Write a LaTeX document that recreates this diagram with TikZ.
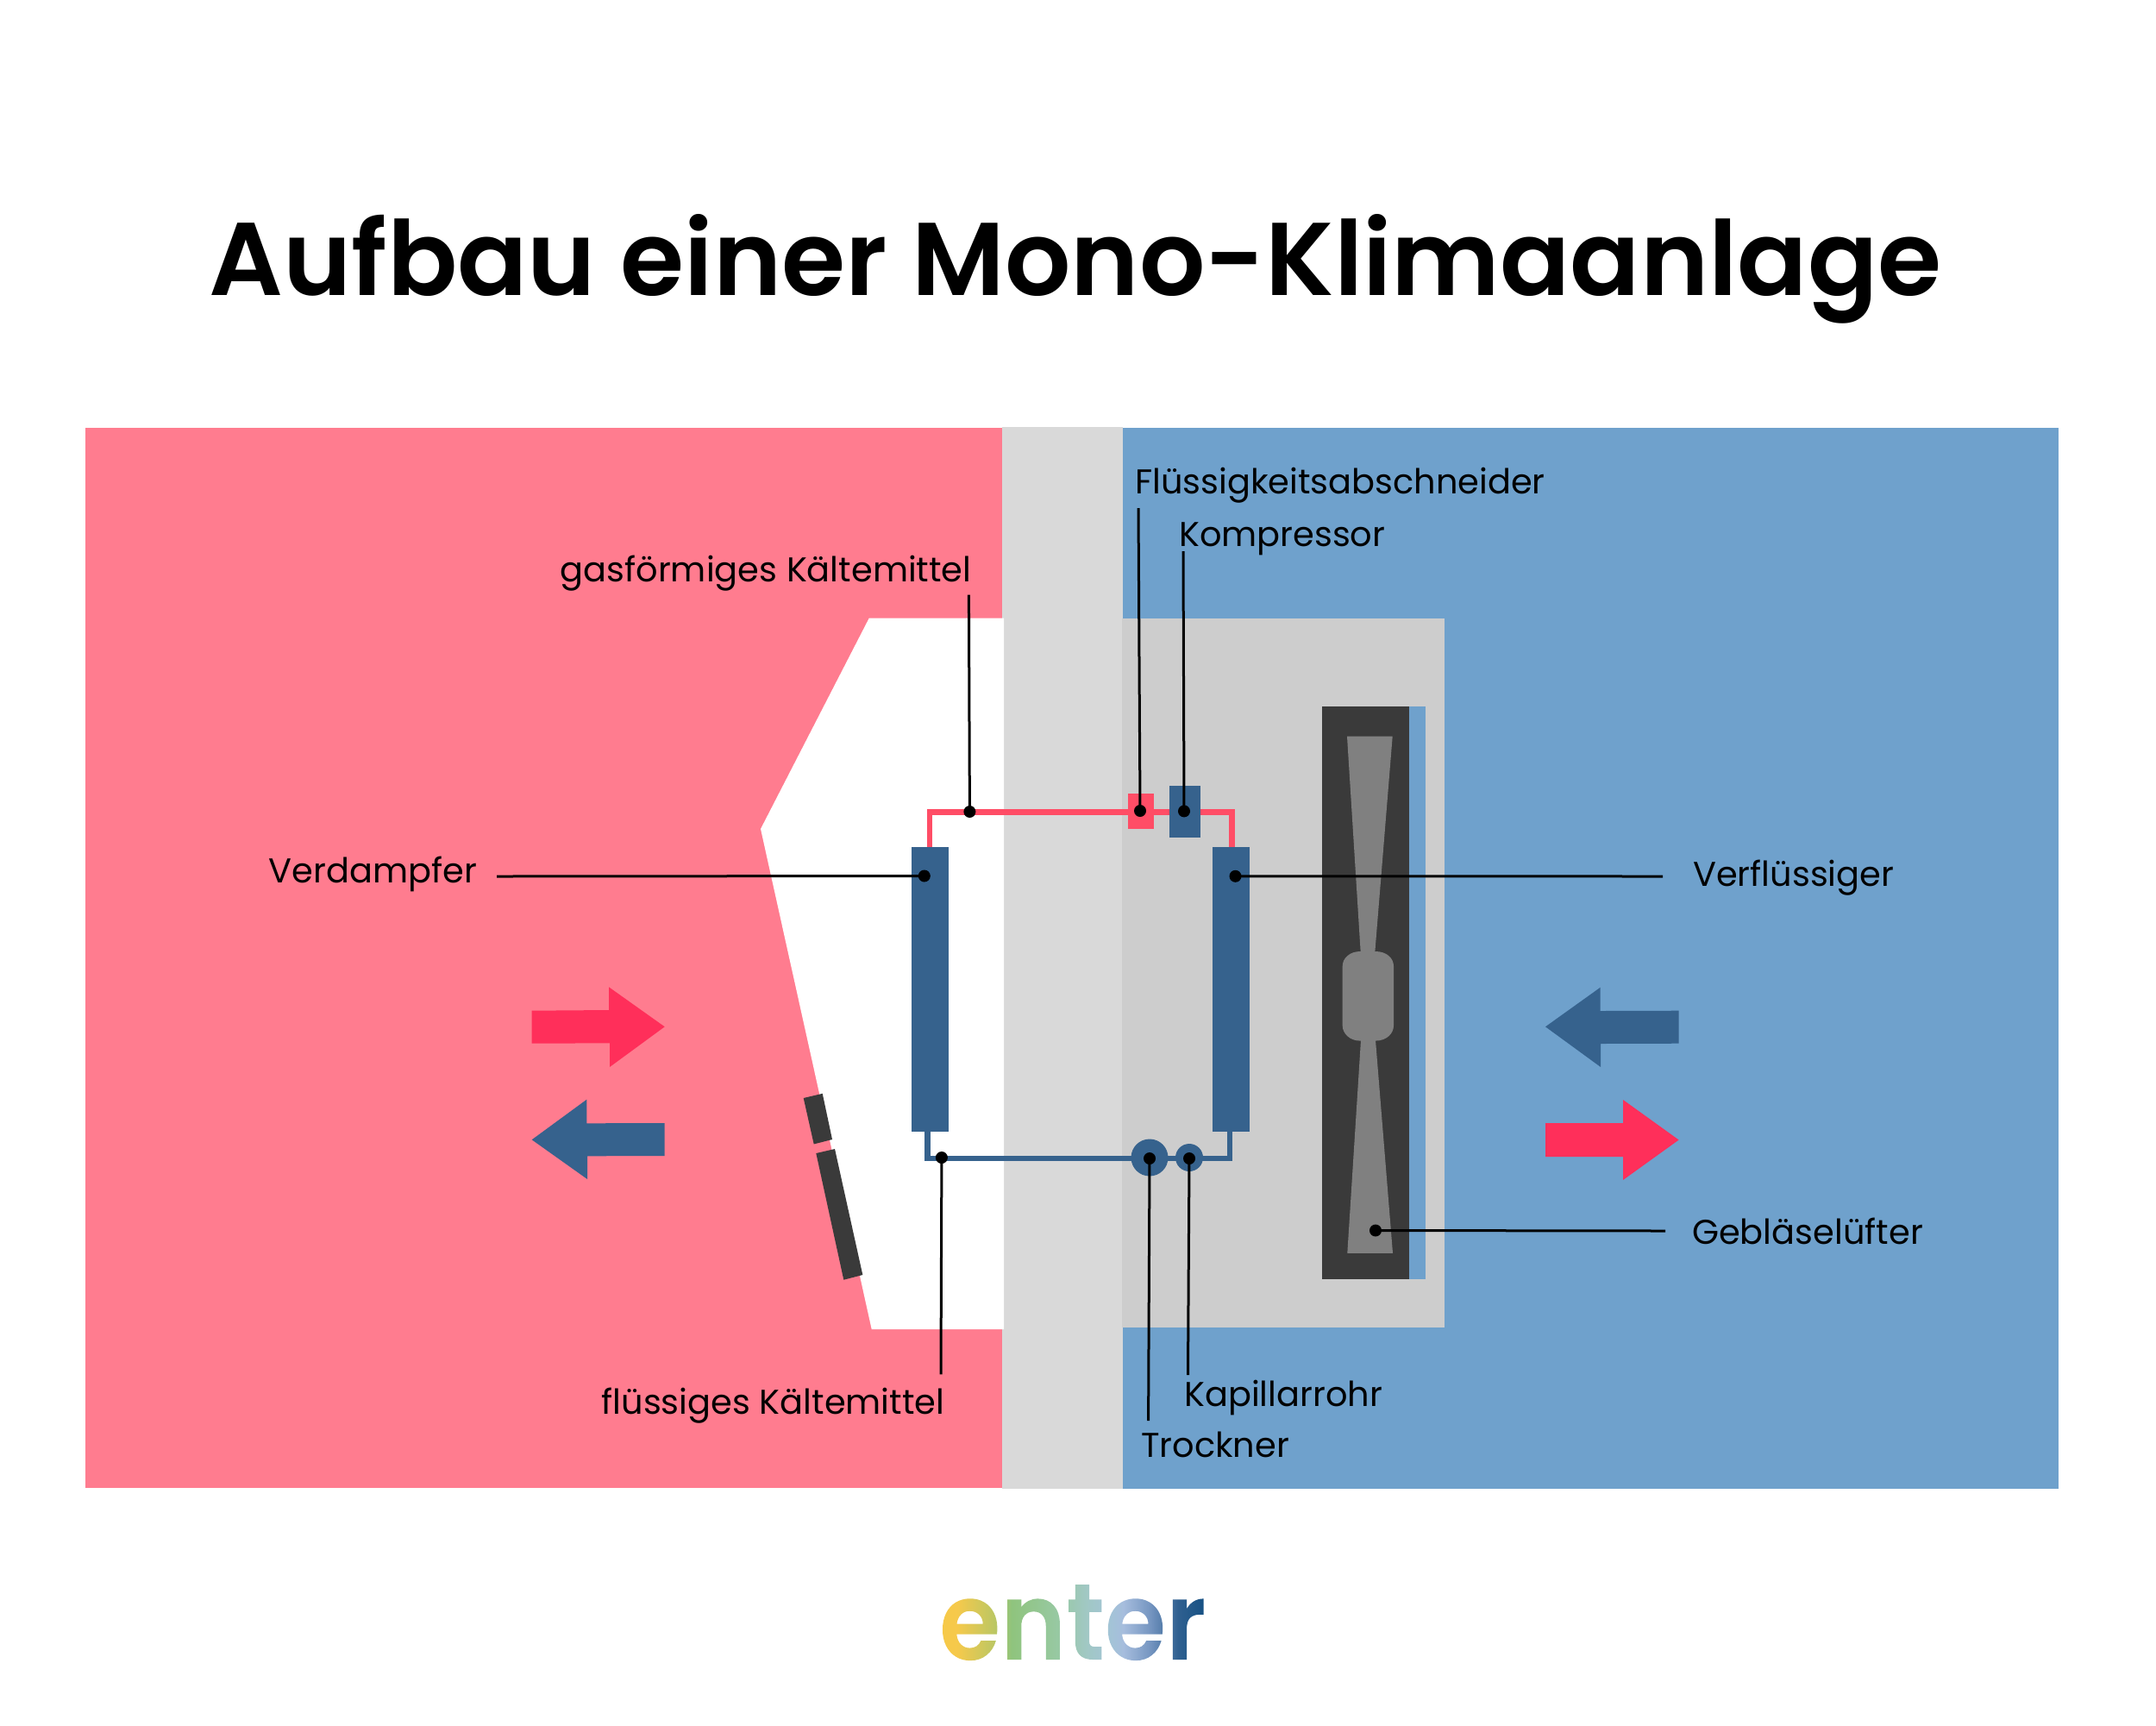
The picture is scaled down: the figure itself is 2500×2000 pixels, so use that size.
\documentclass[tikz,border=0pt]{standalone}
\usepackage{fontspec}
\setmainfont{Poppins}
\newfontfamily\semif{Poppins SemiBold}
\newfontfamily\logof[FakeStretch=0.916]{Poppins SemiBold}
\definecolor{pinkbg}{HTML}{FF7C8F}
\definecolor{bluebg}{HTML}{6FA1CC}
\definecolor{wallc}{HTML}{D9D9D9}
\definecolor{boxc}{HTML}{CDCDCD}
\definecolor{navy}{HTML}{36628D}
\definecolor{pipered}{HTML}{FF4D66}
\definecolor{arrowred}{HTML}{FF2F5A}
\definecolor{darkc}{HTML}{3A3A3A}
\definecolor{bladec}{HTML}{808080}
\pgfdeclarehorizontalshading{logoshade}{150pt}{
 rgb(0pt)=(0.965,0.788,0.282);
 rgb(23pt)=(0.965,0.788,0.294);
 rgb(76pt)=(0.722,0.78,0.396);
 rgb(95pt)=(0.561,0.769,0.49);
 rgb(160pt)=(0.596,0.788,0.647);
 rgb(194pt)=(0.631,0.784,0.769);
 rgb(224pt)=(0.639,0.769,0.839);
 rgb(243pt)=(0.651,0.741,0.867);
 rgb(277pt)=(0.467,0.592,0.761);
 rgb(315pt)=(0.184,0.376,0.565);
 rgb(355pt)=(0.075,0.31,0.51)}
\def\pxu{0.04cm}
\tikzset{
 pxbox/.style 2 args={rectangle,inner sep=0pt,outer sep=0pt,minimum width=#1*\pxu,minimum height=#2*\pxu},
 pxcirc/.style={circle,inner sep=0pt,outer sep=0pt,minimum size=#1*\pxu},
 navyfill/.style={fill=navy},
 dot/.style={circle,fill=black,inner sep=0pt,minimum size=14*\pxu},
 lead/.style={draw=black,line width=3*\pxu},
 redpipe/.style={draw=pipered,line width=6.5*\pxu,line join=miter},
 bluepipe/.style={draw=navy,line width=6.5*\pxu,line join=miter},
 lab/.style={anchor=base west,inner sep=0pt,font=\fontsize{45.4}{54}\selectfont},
}
\begin{document}
\begin{tikzpicture}[x=0.04cm,y=-0.04cm]
\useasboundingbox (0,0) rectangle (2500,2000);
\fill[white] (0,0) rectangle (2500,2000);
% rooms
\fill[pinkbg] (99,496) rectangle (1162,1725);
\fill[bluebg] (1302,496) rectangle (2387,1725.5);
\fill[wallc] (1162,495) rectangle (1302,1726);
\fill[white] (1007.7,716.7) -- (882,961) -- (1010.7,1541) -- (1164,1541) -- (1164,716.7) -- cycle;
\fill[boxc] (1301,717) rectangle (1675,1539);
% fan
\fill[bluebg] (1634,819) rectangle (1653,1483);
\fill[darkc] (1532.7,819) rectangle (1634,1483);
\fill[bladec] (1562,853.7) -- (1614.7,853.7) -- (1594.3,1104) -- (1577.7,1104) -- cycle;
\fill[bladec] (1578,1206) -- (1595,1206) -- (1615,1452.8) -- (1562.3,1452.8) -- cycle;
\fill[bladec] (1577,1103) -- (1595,1103) .. controls (1608,1103) and (1616,1111) .. (1616,1120) -- (1616,1189) .. controls (1616,1198) and (1608,1206.6) .. (1595,1206.6) -- (1577,1206.6) .. controls (1565,1206.6) and (1556.7,1198) .. (1556.7,1189) -- (1556.7,1120) .. controls (1556.7,1111) and (1565,1103) .. (1577,1103) -- cycle;
% window
\fill[darkc] (931.7,1273) -- (953.7,1267.8) -- (965,1321) -- (943.7,1326.4) -- cycle;
\fill[darkc] (946.3,1337) -- (968,1332) -- (1000.3,1478) -- (978.3,1483.7) -- cycle;
% air arrows
\fill[arrowred] (616.7,1171.7) -- (706,1171) -- (706,1144.3) -- (770.7,1190.3) -- (707,1237) -- (707,1209.3) -- (616.7,1209.7) -- cycle;
\fill[navy] (616.7,1321.3) -- (680.3,1274.7) -- (680.3,1302.3) -- (770.7,1302) -- (770.7,1340) -- (681,1340.3) -- (681,1367) -- cycle;
\fill[navy] (1792,1190.3) -- (1855.7,1144.7) -- (1855.7,1172) -- (1946.6,1171.7) -- (1946.6,1209.7) -- (1856,1210) -- (1856,1237) -- cycle;
\fill[arrowred] (1792,1302) -- (1882,1302) -- (1882,1275) -- (1946.6,1321.5) -- (1882,1368) -- (1882,1341) -- (1792,1341) -- cycle;
% named pipe ends
\coordinate (rl) at (1078,982);
\coordinate (rr) at (1428.7,982);
\coordinate (bl) at (1075.6,1311);
\coordinate (br) at (1425.8,1311);
\coordinate (rm) at (1323,941.3);
\coordinate (bm) at (1333,1342.8);
\draw[redpipe] (rl) |- (rm) -| (rr);
\draw[bluepipe] (bl) |- (bm) -| (br);
% components
\node[pxbox={43}{330},navyfill] (evap) at (1078.8,1146.5) {};
\node[pxbox={43}{330},navyfill] (cond) at (1427.25,1146.5) {};
\node[pxbox={29.8}{41},fill=pipered] (sep) at (1322.9,940.5) {};
\node[pxbox={36.8}{60},navyfill] (comp) at (1373.9,940.5) {};
\node[pxcirc=43,navyfill] (dry) at (1333,1342) {};
\node[pxcirc=32,navyfill] (cap) at (1379,1342) {};
% dots
\node[dot] (d1) at (1124.4,941) {};
\node[dot] (d2) at (1322,940) {};
\node[dot] (d3) at (1373,940.4) {};
\node[dot] (d4) at (1071.8,1015.5) {};
\node[dot] (d5) at (1432.5,1015.8) {};
\node[dot] (d6) at (1091.9,1342) {};
\node[dot] (d7) at (1333,1343) {};
\node[dot] (d8) at (1379,1343) {};
\node[dot] (d9) at (1595,1426.5) {};
% leader ends
\coordinate (e1) at (1123.4,689.7);
\coordinate (e2) at (1320,589);
\coordinate (e3) at (1372,639);
\coordinate (e4) at (576,1016);
\coordinate (e5) at (1928,1016);
\coordinate (e6) at (1091,1593.4);
\coordinate (e7) at (1331.6,1647);
\coordinate (e8) at (1377.5,1594);
\coordinate (e9) at (1931,1427);
\foreach \n in {1,...,9} {\draw[lead] (e\n) -- (d\n.center);}
% labels
\node[lab] (l1) at (649.5,674) {gasförmiges Kältemittel};
\node[lab] (l2) at (1316,572) {Flüssigkeitsabschneider};
\node[lab] (l3) at (1367,633) {Kompressor};
\node[lab] (l4) at (311.5,1023) {Verdampfer};
\node[lab] (l5) at (1963,1027.5) {Verflüssiger};
\node[lab] (l6) at (697.5,1639.5) {flüssiges Kältemittel};
\node[lab] (l7) at (1323,1689.5) {Trockner};
\node[lab] (l8) at (1373,1630.5) {Kapillarrohr};
\node[lab] (l9) at (1962,1442) {Gebläselüfter};
% title
\node[anchor=base,inner sep=0pt,font=\semif\fontsize{136.5}{170}\selectfont] (title) at (1247,342) {Aufbau einer Mono-Klimaanlage};
% logo
\node[anchor=base west,inner sep=0pt,font=\logof\fontsize{143}{170}\selectfont] (logo) at (1089,1924) {\setbox0\hbox{enter}\special{pdf:code q 7 Tr}\copy0\special{pdf:code 0 Tr}\kern-\wd0\rlap{\raisebox{-30pt}{\pgfuseshading{logoshade}}}\kern\wd0\special{pdf:code Q}};
\end{tikzpicture}
\end{document}
